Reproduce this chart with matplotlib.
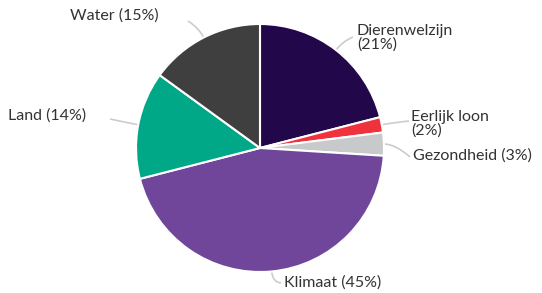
import numpy as np
import matplotlib.pyplot as plt
from matplotlib.path import Path
from matplotlib.patches import PathPatch

# data
categories = ['Dierenwelzijn', 'Eerlijk loon', 'Gezondheid', 'Klimaat', 'Land', 'Water']
shares = [21, 2, 3, 45, 14, 15]
colors = ['#22084a', '#f0323c', '#c8c9ca', '#6f4699', '#00a887', '#3f3f3f']

# layout (pixel coords, y measured from top)
W, H = 542, 293
cx, cy, R = 260, 148, 124
label_pos = {
    'Dierenwelzijn': (357, 38, 'left'),
    'Eerlijk loon': (411, 124, 'left'),
    'Gezondheid': (413, 156, 'left'),
    'Klimaat': (284, 283, 'left'),
    'Land': (86, 116, 'right'),
    'Water': (159, 16, 'right'),
}
line_end = {
    'Dierenwelzijn': (353, 37),
    'Eerlijk loon': (409, 121),
    'Gezondheid': (410, 157),
    'Klimaat': (281, 283),
    'Land': (110, 119),
    'Water': (188, 21),
}

plt.rcParams['font.family'] = ['Lato', 'DejaVu Sans']

fig = plt.figure(figsize=(W / 100, H / 100), dpi=100)
ax = fig.add_axes([0, 0, 1, 1])

wedges, _ = ax.pie(shares, colors=colors, startangle=90, counterclock=False,
                   center=(cx, H - cy), radius=R,
                   wedgeprops=dict(edgecolor='white', linewidth=1.5))

for w, name, val in zip(wedges, categories, shares):
    mid = np.deg2rad((w.theta1 + w.theta2) / 2)
    p0 = (cx + R * np.cos(mid), H - cy + R * np.sin(mid))
    p1 = (cx + (R + 11) * np.cos(mid), H - cy + (R + 11) * np.sin(mid))
    ex, ey = line_end[name]
    p2 = (ex, H - ey)
    path = Path([p0, p1, p2], [Path.MOVETO, Path.CURVE3, Path.CURVE3])
    ax.add_patch(PathPatch(path, fc='none', ec='#cccccc', lw=1.2, zorder=0))
    tx, ty, ha = label_pos[name]
    if name in ('Dierenwelzijn', 'Eerlijk loon'):
        txt = f'{name}\n({val}%)'
    else:
        txt = f'{name} ({val}%)'
    ax.text(tx, H - ty, txt, ha=ha, va='center', fontsize=11.5,
            color='#333333', linespacing=1.0)

ax.set_xlim(0, W)
ax.set_ylim(0, H)
ax.set_aspect('equal')
ax.axis('off')

fig.savefig('out.png', dpi=100, facecolor='white')
